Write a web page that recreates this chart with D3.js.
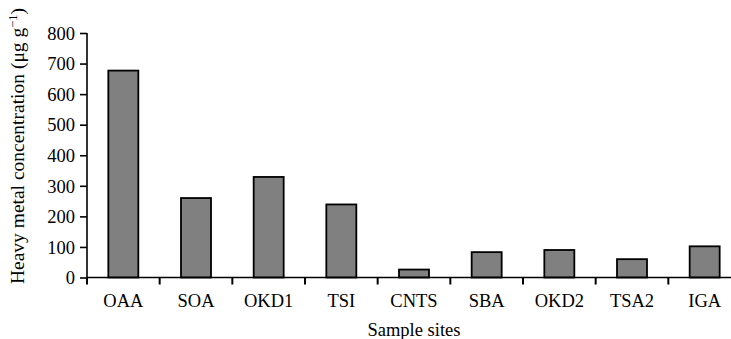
<!DOCTYPE html>
<html><head><meta charset="utf-8">
<script src="https://cdn.jsdelivr.net/npm/d3@7"></script>
<style>
html,body{margin:0;padding:0;background:#fff;overflow:hidden;}
text{font-family:"Liberation Serif","Times New Roman",serif;fill:#000;}
</style></head>
<body>
<svg id="chart" width="731" height="339"></svg>
<script>
const categories = ["OAA","SOA","OKD1","TSI","CNTS","SBA","OKD2","TSA2","IGA"];
const values = [677, 260, 329, 239, 26, 83, 90, 60, 102];
const yTicks = [0,100,200,300,400,500,600,700,800];

(function(){
const svg = d3.select("#chart");
const mLeft = 87, mRight = 741, mTop = 33, mBottom = 277.5;
const x = d3.scaleBand().domain(categories).range([mLeft, mRight]).paddingInner(0).paddingOuter(0);
const y = d3.scaleLinear().domain([0, 800]).range([mBottom, mTop]);
const barW = 30;

// bars
svg.selectAll("rect.bar").data(values).join("rect")
  .attr("class","bar")
  .attr("x",(d,i)=>x(categories[i]) + x.bandwidth()/2 - barW/2)
  .attr("y",d=>y(d))
  .attr("width",barW)
  .attr("height",d=>mBottom - y(d))
  .attr("fill","#808080").attr("stroke","#000").attr("stroke-width",1.8);

// y axis
const yAxis = svg.append("g").attr("transform",`translate(${mLeft},0)`)
  .call(d3.axisLeft(y).tickValues(yTicks).tickSize(7).tickPadding(5).tickFormat(d3.format("d")));
yAxis.attr("font-family",null).attr("font-size",null);
yAxis.select(".domain").attr("stroke","#000").attr("stroke-width",1.6).attr("d",`M0,${mTop}V${mBottom}`);
yAxis.selectAll(".tick line").attr("stroke","#000").attr("stroke-width",1.6);
yAxis.selectAll(".tick text").style("font-size","18.5px").attr("dy","0.34em");

// x axis line
svg.append("line").attr("x1",mLeft).attr("x2",731).attr("y1",mBottom).attr("y2",mBottom)
  .attr("stroke","#000").attr("stroke-width",1.6);
// x boundary ticks
const bounds = categories.map(c=>x(c)).concat([mRight]);
svg.selectAll("line.xt").data(bounds).join("line").attr("class","xt")
  .attr("x1",d=>d).attr("x2",d=>d).attr("y1",mBottom).attr("y2",mBottom+7)
  .attr("stroke","#000").attr("stroke-width",2);
// x labels
svg.selectAll("text.xl").data(categories).join("text").attr("class","xl")
  .attr("x",d=>x(d)+x.bandwidth()/2).attr("y",306.5)
  .attr("text-anchor","middle").style("font-size","18.5px").text(d=>d);

// axis titles
svg.append("text").attr("x",(mLeft+mRight)/2).attr("y",336).attr("text-anchor","middle")
  .style("font-size","18.5px").text("Sample sites");

const yl = svg.append("text").attr("transform","translate(24,146) rotate(-90)")
  .attr("text-anchor","middle").style("font-size","19.5px");
yl.append("tspan").text("Heavy metal concentration (μg g");
yl.append("tspan").attr("dy","-7").style("font-size","12.5px").text("−1");
yl.append("tspan").attr("dy","7").text(")");
})();
</script>
</body></html>
